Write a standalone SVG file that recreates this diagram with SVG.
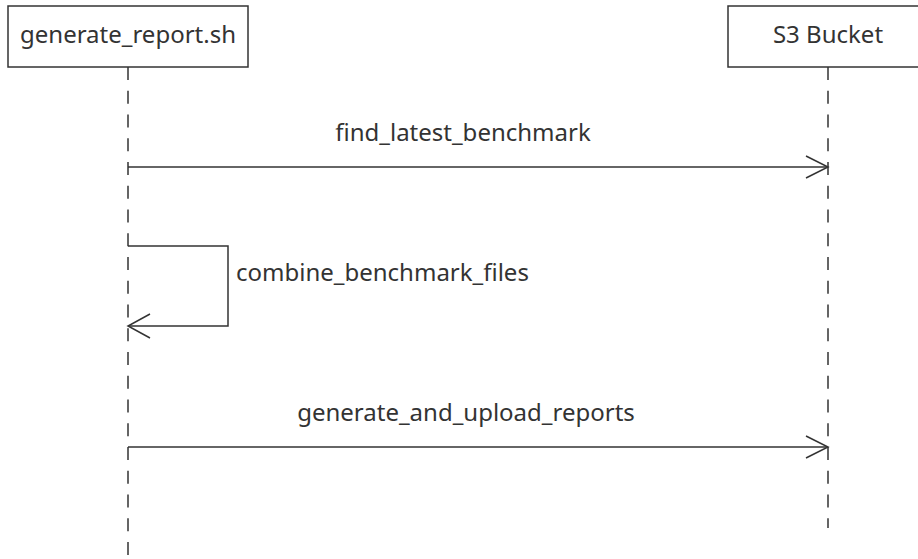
<svg xmlns="http://www.w3.org/2000/svg" width="918" height="559" viewBox="0 0 918 559">
<style>
.box{fill:#fff;stroke:#333;stroke-width:1.5}
.life{stroke:#333;stroke-width:1.5;stroke-dasharray:13 10.75;fill:none}
.msg{stroke:#333;stroke-width:1.5;fill:none}
.head{stroke:#333;stroke-width:1.5;fill:none}
text{font-family:"Noto Sans","Open Sans","DejaVu Sans",sans-serif;font-size:24px;fill:#333}
.c{text-anchor:middle}
</style>
<rect width="918" height="559" fill="#fff"/>
<g id="lifelines">
<line class="life" x1="128" y1="67" x2="128" y2="559"/>
<line class="life" x1="828" y1="67" x2="828" y2="528"/>
</g>
<g id="node-generate_report">
<rect class="box" x="8" y="6" width="240" height="61"/>
<text class="c" x="128" y="43">generate_report.sh</text>
</g>
<g id="node-s3">
<rect class="box" x="728" y="6" width="200" height="61"/>
<text class="c" x="828" y="43">S3 Bucket</text>
</g>
<g id="connectors">
<line class="msg" x1="128" y1="167" x2="827" y2="167"/>
<polyline class="head" points="806,156 828,167 806,178"/>
<text class="c" x="463" y="141">find_latest_benchmark</text>
<polyline class="msg" points="128,246 228,246 228,326 129,326"/>
<polyline class="head" points="150,314 128,326 150,338"/>
<text x="236" y="281">combine_benchmark_files</text>
<line class="msg" x1="128" y1="447" x2="827" y2="447"/>
<polyline class="head" points="806,436 828,447 806,458"/>
<text class="c" x="466" y="421">generate_and_upload_reports</text>
</g>
</svg>
